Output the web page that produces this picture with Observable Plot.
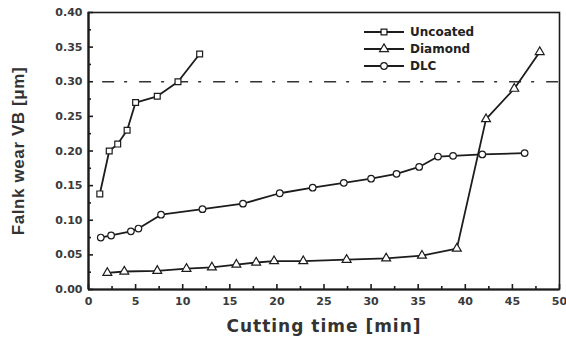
<!DOCTYPE html>
<html>
<head>
<meta charset="utf-8">
<script src="https://cdn.jsdelivr.net/npm/d3@7"></script>
<script src="https://cdn.jsdelivr.net/npm/@observablehq/plot@0.6"></script>
<style>
  html, body { margin: 0; padding: 0; background: #fff; }
  #wrap { position: relative; width: 566px; height: 338px; }
  #wrap svg.plot { font-family: "DejaVu Sans", sans-serif; }
  g[aria-label="x-axis label"] text { font: bold 17px "DejaVu Sans", sans-serif; letter-spacing: 1px; fill: #333; }
  g[aria-label="y-axis label"] text { font: bold 17px "Liberation Sans", Arial, sans-serif; letter-spacing: 0.6px; fill: #333; }
  #legend { position: absolute; left: 363px; top: 23px; font: bold 12px "DejaVu Sans", sans-serif; color: #222; }
  #legend .row { height: 17px; display: flex; align-items: center; }
  #legend svg { margin-right: 5px; }
</style>
</head>
<body>
<div id="wrap"></div>
<script>
// ---- data ----
const seriesNames = ["Uncoated", "Diamond", "DLC"];
const seriesSymbols = ["square", "triangle", "circle"];

const uncoatedTime = [1.2, 2.2, 3.1, 4.1, 5.0, 7.3, 9.5, 11.8];
const uncoatedWear = [0.138, 0.200, 0.210, 0.230, 0.270, 0.279, 0.300, 0.340];

const diamondTime = [2.0, 3.8, 7.3, 10.4, 13.1, 15.7, 17.8, 19.7, 22.8, 27.4, 31.6, 35.4, 39.1, 42.2, 45.2, 47.9];
const diamondWear = [0.024, 0.026, 0.027, 0.030, 0.032, 0.036, 0.039, 0.041, 0.041, 0.043, 0.045, 0.049, 0.059, 0.246, 0.290, 0.343];

const dlcTime = [1.3, 2.4, 4.5, 5.3, 7.7, 12.1, 16.4, 20.3, 23.8, 27.1, 30.0, 32.7, 35.1, 37.1, 38.7, 41.8, 46.3];
const dlcWear = [0.075, 0.078, 0.084, 0.088, 0.108, 0.116, 0.124, 0.139, 0.147, 0.154, 0.160, 0.167, 0.177, 0.192, 0.193, 0.195, 0.197];

const wearLimit = [{y: 0.30, x1: 1.5, x2: 50}];

const xMajorTicks = [0, 5, 10, 15, 20, 25, 30, 35, 40, 45, 50];
const xMinorTicks = [2.5, 7.5, 12.5, 17.5, 22.5, 27.5, 32.5, 37.5, 42.5, 47.5];
const yMajorTicks = [0, 0.05, 0.10, 0.15, 0.20, 0.25, 0.30, 0.35, 0.40];
const yMinorTicks = [0.025, 0.075, 0.125, 0.175, 0.225, 0.275, 0.325, 0.375];

// ---- build table ----
const toRows = (name, xs, ys) => xs.map((t, i) => ({series: name, time: t, wear: ys[i]}));
const tables = [
  toRows(seriesNames[0], uncoatedTime, uncoatedWear),
  toRows(seriesNames[1], diamondTime, diamondWear),
  toRows(seriesNames[2], dlcTime, dlcWear)
];

const W = 566, H = 338, ML = 88, MR = 7, MT = 12, MB = 49;
const frameW = W - ML - MR, frameH = H - MT - MB;

const ink = "#1c1c1c";
const textInk = "#3a3a3a";
const R = 3.3;

const marks = [
  Plot.frame({stroke: ink, strokeWidth: 1.6}),
  Plot.ruleX([0], {stroke: ink, strokeWidth: 2.2}),
  Plot.ruleY([0], {stroke: ink, strokeWidth: 2.2}),
  // inward tick marks
  Plot.tickX(xMajorTicks, {x: d => d, insetTop: frameH - 5, stroke: ink, strokeWidth: 1.6}),
  Plot.tickX(xMinorTicks, {x: d => d, insetTop: frameH - 3, stroke: ink, strokeWidth: 1.6}),
  Plot.tickY(yMajorTicks, {y: d => d, insetRight: frameW - 5, stroke: ink, strokeWidth: 1.6}),
  Plot.tickY(yMinorTicks, {y: d => d, insetRight: frameW - 3, stroke: ink, strokeWidth: 1.6}),
  // tick labels + titles
  Plot.axisX(xMajorTicks, {tickSize: 0, tickPadding: 8, fontSize: 11, fontWeight: "bold", fill: textInk,
    label: "Cutting time [min]", labelAnchor: "center", labelOffset: 42, labelArrow: "none"}),
  Plot.axisY(yMajorTicks, {tickSize: 0, tickPadding: 6, fontSize: 11, fontWeight: "bold", fill: textInk,
    tickFormat: d3.format(".2f"),
    label: "Falnk wear VB [μm]", labelAnchor: "center", labelOffset: 77, labelArrow: "none"}),
  // dash-dot wear limit
  Plot.ruleY(wearLimit, {y: "y", x1: "x1", x2: "x2", stroke: "#333", strokeWidth: 1.5, strokeDasharray: "12,10,3,12"})
];

tables.forEach((rows) => {
  marks.push(Plot.line(rows, {x: "time", y: "wear", stroke: ink, strokeWidth: 1.8}));
});
tables.forEach((rows, i) => {
  marks.push(Plot.dot(rows, {x: "time", y: "wear", symbol: () => seriesSymbols[i], r: R,
    fill: "white", stroke: ink, strokeWidth: 1.2}));
});

const chart = Plot.plot({
  width: W,
  height: H,
  marginLeft: ML,
  marginRight: MR,
  marginTop: MT,
  marginBottom: MB,
  style: {background: "white", overflow: "visible"},
  x: {domain: [0, 50], axis: null},
  y: {domain: [0, 0.40], axis: null},
  symbol: {domain: seriesSymbols, range: seriesSymbols},
  marks
});
chart.classList.add("plot");
const wrap = document.getElementById("wrap");
wrap.appendChild(chart);

// ---- legend ----
const legend = document.createElement("div");
legend.id = "legend";
const symType = {square: d3.symbolSquare, triangle: d3.symbolTriangle, circle: d3.symbolCircle};
seriesNames.forEach((name, i) => {
  const row = document.createElement("div");
  row.className = "row";
  const sw = d3.create("svg").attr("width", 42).attr("height", 12);
  sw.append("line").attr("x1", 1).attr("x2", 41).attr("y1", 6).attr("y2", 6)
    .attr("stroke", ink).attr("stroke-width", 1.8);
  sw.append("path").attr("transform", "translate(21,6)")
    .attr("d", d3.symbol().type(symType[seriesSymbols[i]]).size(Math.PI * R * R)())
    .attr("fill", "white").attr("stroke", ink).attr("stroke-width", 1.2);
  row.appendChild(sw.node());
  const label = document.createElement("span");
  label.textContent = name;
  row.appendChild(label);
  legend.appendChild(row);
});
wrap.appendChild(legend);
</script>
</body>
</html>
